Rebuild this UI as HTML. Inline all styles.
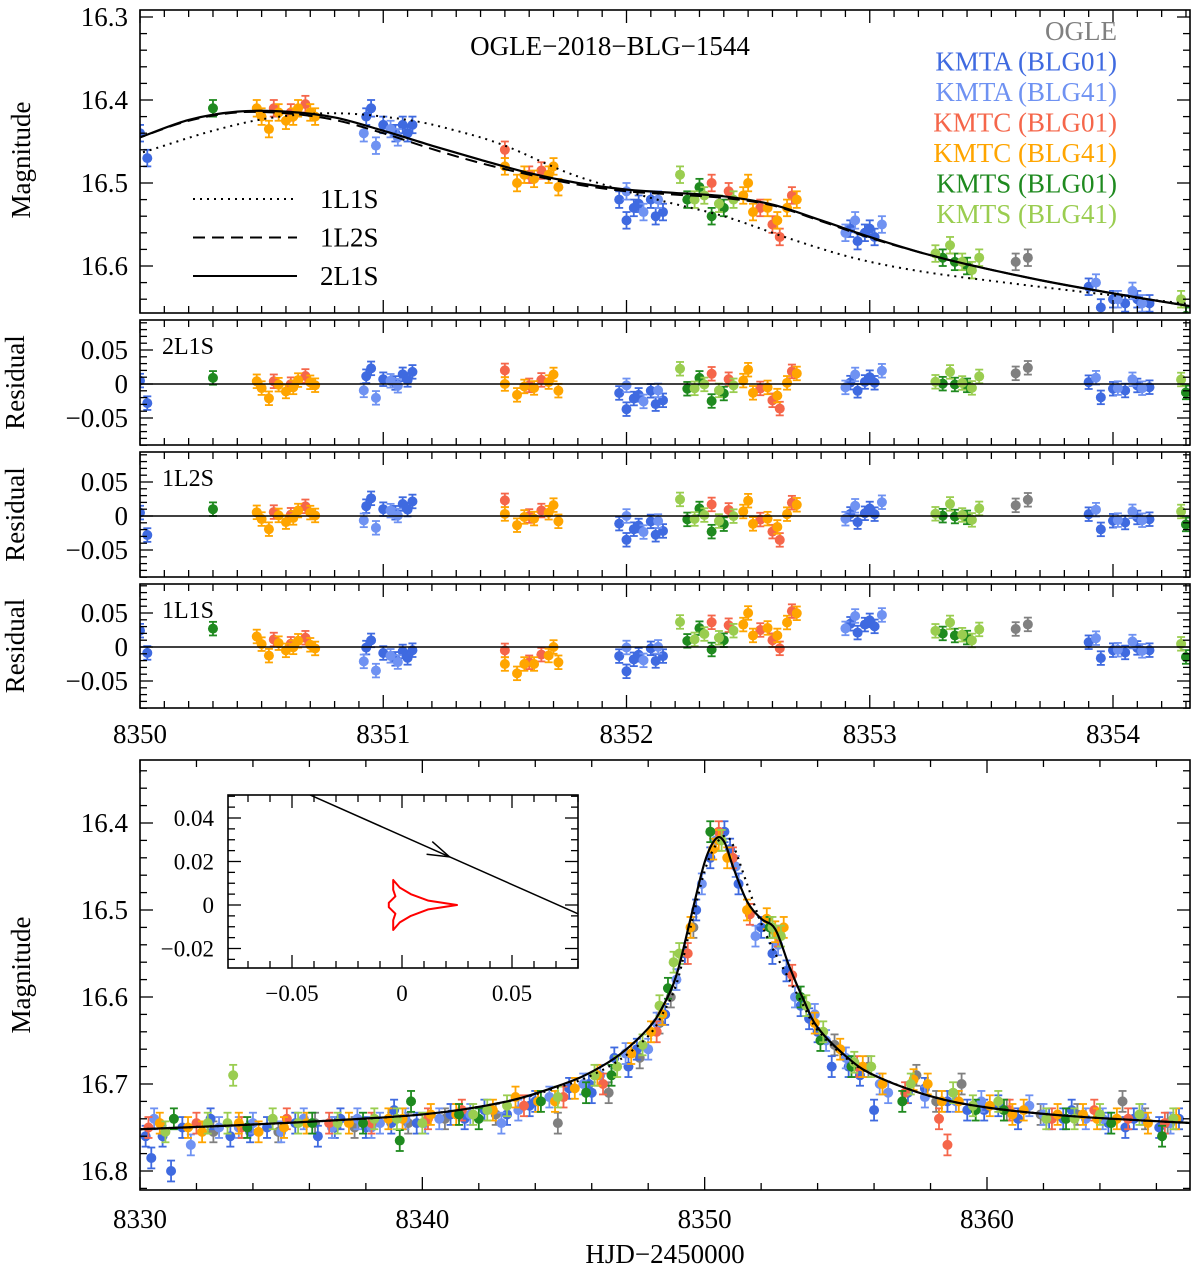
<!DOCTYPE html>
<html><head><meta charset="utf-8">
<style>
html,body{margin:0;padding:0;background:#fff;}
svg{display:block;font-family:"Liberation Serif",serif;}
</style></head>
<body>
<svg id="chart" width="1200" height="1272" viewBox="0 0 1200 1272" xmlns="http://www.w3.org/2000/svg"></svg>
<script>
// ---------- DATA ----------
const groupNames = ["OGLE","KMTA (BLG01)","KMTA (BLG41)","KMTC (BLG01)","KMTC (BLG41)","KMTS (BLG01)","KMTS (BLG41)"];
const groupColors = ["#808080","#3f6ae0","#6f92f2","#f5664a","#ffa500","#1f8a1f","#9acd50"];

// top zoom panel data [HJD-2450000, mag]
const topOgle = [[8353.6,16.595],[8353.65,16.59]];
const topKmtA01 = [[8350.0,16.44],[8350.03,16.47],[8350.93,16.42],[8350.95,16.41],[8351.0,16.43],[8351.05,16.44],[8351.08,16.43],[8351.1,16.44],[8351.12,16.43],[8351.97,16.52],[8352.0,16.545],[8352.03,16.53],[8352.05,16.525],[8352.1,16.52],[8352.12,16.54],[8352.15,16.535],[8352.92,16.555],[8352.95,16.57],[8352.98,16.56],[8353.0,16.555],[8353.02,16.565],[8353.9,16.625],[8353.95,16.65],[8354.0,16.64],[8354.05,16.645],[8354.1,16.64],[8354.15,16.645]];
const topKmtA41 = [[8350.92,16.44],[8350.97,16.455],[8351.03,16.435],[8351.06,16.445],[8352.0,16.51],[8352.07,16.535],[8352.13,16.52],[8352.9,16.56],[8352.94,16.545],[8353.05,16.55],[8353.93,16.62],[8354.02,16.64],[8354.08,16.63],[8354.12,16.645]];
const topKmtC01 = [[8350.55,16.41],[8350.62,16.415],[8350.68,16.405],[8351.5,16.46],[8351.6,16.49],[8351.65,16.485],[8352.35,16.5],[8352.42,16.51],[8352.55,16.53],[8352.6,16.55],[8352.63,16.565],[8352.68,16.515]];
const topKmtC41 = [[8350.48,16.41],[8350.5,16.42],[8350.53,16.435],[8350.57,16.415],[8350.6,16.425],[8350.63,16.42],[8350.65,16.41],[8350.7,16.415],[8350.72,16.42],[8351.5,16.48],[8351.55,16.5],[8351.58,16.49],[8351.62,16.495],[8351.68,16.49],[8351.72,16.505],[8351.7,16.48],[8352.48,16.515],[8352.5,16.5],[8352.52,16.535],[8352.58,16.53],[8352.62,16.545],[8352.66,16.53],[8352.7,16.52]];
const topKmtS01 = [[8350.3,16.41],[8352.25,16.52],[8352.3,16.505],[8352.35,16.54],[8352.4,16.53],[8353.3,16.59],[8353.35,16.595],[8353.4,16.6],[8354.3,16.66]];
const topKmtS41 = [[8352.22,16.49],[8352.28,16.52],[8352.32,16.515],[8352.38,16.525],[8352.44,16.52],[8353.27,16.585],[8353.33,16.575],[8353.38,16.595],[8353.42,16.605],[8353.45,16.59],[8354.28,16.64]];

// model curves (top)
const model2L1S = [[8349.9,16.455],[8350,16.445],[8350.2,16.424],[8350.4,16.414],[8350.6,16.414],[8350.8,16.421],[8351.0,16.437],[8351.2,16.455],[8351.4,16.472],[8351.6,16.488],[8351.8,16.5],[8352.0,16.508],[8352.2,16.512],[8352.4,16.516],[8352.6,16.526],[8352.8,16.545],[8353.0,16.565],[8353.2,16.583],[8353.4,16.598],[8353.7,16.617],[8354.0,16.633],[8354.35,16.65]];
const model1L2S = [[8349.9,16.455],[8350,16.445],[8350.2,16.425],[8350.4,16.415],[8350.6,16.416],[8350.8,16.424],[8351.0,16.44],[8351.2,16.459],[8351.4,16.476],[8351.6,16.49],[8351.8,16.502],[8352.0,16.51],[8352.2,16.514],[8352.4,16.518],[8352.6,16.527],[8352.8,16.546],[8353.0,16.566],[8353.2,16.583],[8353.4,16.598],[8353.7,16.617],[8354.0,16.633],[8354.35,16.65]];
const model1L1S = [[8349.9,16.47],[8350,16.464],[8350.3,16.437],[8350.55,16.421],[8350.82,16.416],[8351.1,16.424],[8351.3,16.437],[8351.5,16.455],[8351.78,16.49],[8352.1,16.518],[8352.4,16.54],[8352.66,16.566],[8352.93,16.59],[8353.2,16.606],[8353.53,16.619],[8353.9,16.632],[8354.35,16.647]];

// bottom full-light-curve data
const botOgle = [[8332.6,16.755],[8334.9,16.755],[8337.6,16.75],[8340.8,16.74],[8344.8,16.745],[8346.6,16.71],[8348.4,16.63],[8348.8,16.6],[8349.6,16.52],[8354.6,16.655],[8355.8,16.68],[8357.5,16.69],[8359.1,16.70],[8360.7,16.73],[8363.2,16.735],[8364.8,16.72],[8366.4,16.745],[8336.2,16.745],[8339.5,16.745],[8342.6,16.735],[8347.7,16.67],[8358.2,16.72],[8361.9,16.735],[8365.6,16.74]];
const botKmtA01 = [[8330.2,16.76],[8330.4,16.785],[8331.1,16.80],[8331.5,16.75],[8332.5,16.74],[8333.2,16.76],[8334.5,16.75],[8335.5,16.745],[8336.3,16.76],[8337.1,16.74],[8338,16.75],[8339,16.73],[8339.8,16.745],[8341,16.735],[8342.2,16.73],[8343,16.735],[8344,16.72],[8345.2,16.705],[8346,16.71],[8346.8,16.67],[8347.6,16.66],[8348.6,16.62],[8349.3,16.55],[8349.7,16.5],[8350.2,16.44],[8350.9,16.43],[8351.2,16.47],[8352.0,16.52],[8352.4,16.55],[8352.9,16.57],[8353.4,16.61],[8354.0,16.64],[8354.5,16.68],[8355.5,16.69],[8356,16.73],[8357.2,16.71],[8358.6,16.72],[8359.3,16.73],[8360.4,16.725],[8361.1,16.74],[8362.2,16.74],[8363,16.73],[8364.3,16.745],[8365.2,16.74],[8366.1,16.75],[8366.8,16.74],[8330.8,16.76],[8333.9,16.755],[8336.9,16.75],[8338.9,16.745],[8341.5,16.74],[8343.8,16.725],[8345.9,16.7],[8347.3,16.68],[8350.7,16.41],[8353.7,16.625],[8355.1,16.68],[8357.8,16.705],[8359.9,16.73],[8362.7,16.74],[8364.9,16.75]];
const botKmtA41 = [[8330.5,16.74],[8331.8,16.77],[8332.8,16.75],[8334,16.745],[8335,16.755],[8336.8,16.75],[8337.7,16.74],[8338.5,16.745],[8339.4,16.74],[8340.6,16.74],[8341.7,16.735],[8342.8,16.745],[8344.5,16.715],[8345.7,16.70],[8347.2,16.665],[8348,16.66],[8349,16.58],[8349.9,16.47],[8350.4,16.42],[8351.1,16.45],[8351.8,16.53],[8352.6,16.54],[8353.2,16.60],[8353.9,16.62],[8355,16.67],[8356.5,16.71],[8357.8,16.715],[8359.8,16.72],[8361.5,16.725],[8363.5,16.74],[8365.5,16.735],[8366.5,16.745],[8333.5,16.75],[8335.8,16.74],[8338.2,16.75],[8340.1,16.745],[8343.4,16.73],[8346.3,16.69],[8348.3,16.63],[8354.3,16.65],[8356.2,16.7],[8358.9,16.72],[8362,16.735],[8364.1,16.74]];
const botKmtC01 = [[8330.3,16.75],[8332,16.745],[8335.2,16.74],[8338.2,16.745],[8341.4,16.73],[8343.6,16.725],[8346.4,16.70],[8348.3,16.64],[8349.4,16.55],[8350.5,16.41],[8351.0,16.44],[8351.6,16.505],[8352.6,16.53],[8353.1,16.575],[8358.3,16.74],[8358.6,16.77],[8360.8,16.73],[8363.8,16.73],[8366.3,16.745],[8333.6,16.75],[8336.7,16.745],[8340.2,16.74],[8345,16.715],[8355.4,16.68],[8357.1,16.71],[8362.3,16.74],[8365,16.74]];
const botKmtC41 = [[8330.7,16.745],[8331.7,16.75],[8332.2,16.755],[8333.5,16.745],[8334.2,16.755],[8335.9,16.745],[8337.4,16.745],[8338.8,16.74],[8340.3,16.735],[8341.2,16.735],[8342.5,16.73],[8343.3,16.715],[8344.7,16.72],[8345.4,16.705],[8346.2,16.69],[8347.4,16.665],[8348.5,16.62],[8349.5,16.52],[8350.5,16.42],[8350.8,16.44],[8351.5,16.5],[8352.2,16.51],[8352.8,16.52],[8353.9,16.63],[8354.8,16.66],[8355.6,16.68],[8356.3,16.70],[8357.4,16.695],[8357.9,16.70],[8359,16.72],[8360.1,16.725],[8361.3,16.73],[8362.5,16.735],[8363.4,16.735],[8364.6,16.74],[8365.7,16.745],[8366.7,16.74],[8335.1,16.75],[8339.3,16.74],[8344.1,16.72],[8348.1,16.64],[8350.3,16.43],[8352.5,16.525],[8358.4,16.72],[8360.9,16.735],[8363.9,16.74]];
const botKmtS01 = [[8331.2,16.74],[8333.8,16.75],[8336.1,16.745],[8339.2,16.765],[8339.6,16.72],[8342,16.74],[8344.2,16.72],[8346.7,16.69],[8348.7,16.59],[8350.2,16.41],[8352.3,16.52],[8353.4,16.6],[8355.2,16.68],[8357,16.72],[8359.6,16.73],[8362.8,16.74],[8366.2,16.76],[8337.9,16.745],[8341.3,16.735],[8345.8,16.71],[8354.1,16.65],[8360.6,16.73],[8364.4,16.745]];
const botKmtS41 = [[8330.9,16.755],[8332.4,16.745],[8333.1,16.745],[8333.3,16.69],[8334.7,16.74],[8337,16.745],[8338.3,16.74],[8340,16.745],[8341.8,16.735],[8343,16.725],[8344.8,16.715],[8346.1,16.69],[8347.8,16.655],[8348.4,16.61],[8348.9,16.56],[8350.6,16.42],[8352.4,16.52],[8353.6,16.61],[8354.2,16.64],[8355.9,16.68],[8357.3,16.70],[8358.8,16.71],[8360.4,16.72],[8362.1,16.74],[8364,16.735],[8365.4,16.735],[8335.6,16.745],[8339.1,16.74],[8342.3,16.73],[8346.9,16.68],[8349.1,16.55],[8352.7,16.53],[8355.3,16.675],[8359.5,16.725],[8363.1,16.74],[8366.6,16.74]];

const botModel2L1S = [[8330,16.752],[8335,16.745],[8340,16.735],[8343,16.72],[8345,16.70],[8346,16.686],[8347,16.666],[8348,16.636],[8348.5,16.612],[8349,16.575],[8349.5,16.51],[8350,16.445],[8350.4,16.418],[8350.7,16.422],[8351,16.45],[8351.5,16.49],[8352,16.51],[8352.5,16.522],[8353,16.565],[8353.5,16.603],[8354,16.635],[8355,16.668],[8356,16.69],[8358,16.714],[8360,16.727],[8363,16.737],[8367.3,16.745]];
const botModel1L1S = [[8330,16.752],[8335,16.745],[8340,16.735],[8343,16.72],[8345,16.702],[8346,16.69],[8347,16.672],[8348,16.645],[8348.5,16.62],[8349,16.585],[8349.5,16.52],[8350,16.455],[8350.4,16.425],[8350.7,16.415],[8351,16.425],[8351.5,16.47],[8352,16.515],[8352.5,16.55],[8353,16.58],[8353.5,16.61],[8354,16.638],[8355,16.67],[8356,16.69],[8358,16.714],[8360,16.727],[8363,16.737],[8367.3,16.745]];

// inset geometry (source-plane)
const trajStart = [-0.0418,0.0506];
const trajEnd = [0.085,-0.0063];
const causticPts = [[0.025,0],[0.012,0.002],[0.004,0.005],[-0.001,0.008],[-0.004,0.0115],[-0.004,0.007],[-0.003,0.004],[-0.006,0.001],[-0.006,-0.001],[-0.003,-0.004],[-0.004,-0.007],[-0.004,-0.0115],[-0.001,-0.008],[0.004,-0.005],[0.012,-0.002],[0.025,0]];

// ---------- DRAWING ----------
const NS="http://www.w3.org/2000/svg";
const svg=document.getElementById("chart");
function mk(tag,attrs,parent){const e=document.createElementNS(NS,tag);for(const k in attrs)e.setAttribute(k,attrs[k]);(parent||svg).appendChild(e);return e;}
function lin(d0,d1,r0,r1){return v=>r0+(v-d0)*(r1-r0)/(d1-d0);}
function interp(curve,t){if(t<=curve[0][0])return curve[0][1];for(let i=1;i<curve.length;i++){if(t<=curve[i][0]){const a=curve[i-1],b=curve[i];return a[1]+(b[1]-a[1])*(t-a[0])/(b[0]-a[0]);}}return curve[curve.length-1][1];}

const defs=mk("defs",{});
function clip(id,x,y,w,h){const c=mk("clipPath",{id:id},defs);mk("rect",{x:x,y:y,width:w,height:h},c);}

function frame(name,x0,y0,x1,y1){
  const r=mk("rect",{x:x0,y:y0,width:x1-x0,height:y1-y0,fill:"none",stroke:"#000","stroke-width":1.6});
  
  
}
function xticks(sx,x0,x1,y0,y1,majors,minorStep,minT,maxT){
  const g=mk("g",{stroke:"#000","stroke-width":1.3});
  
  
  for(let v=minT;v<=maxT+1e-9;v+=minorStep){const px=sx(v);if(px<x0-0.5||px>x1+0.5)continue;
    const isMaj=majors.some(m=>Math.abs(m-v)<1e-6);const L=isMaj?13:7;
    mk("line",{x1:px,y1:y1,x2:px,y2:y1-L},g);mk("line",{x1:px,y1:y0,x2:px,y2:y0+L},g);}
}
function yticks(sy,x0,x1,y0,y1,majors,minorStep,minV,maxV){
  const g=mk("g",{stroke:"#000","stroke-width":1.3});
  
  
  for(let v=minV;v<=maxV+1e-9;v+=minorStep){const py=sy(v);if(py<y0-0.5||py>y1+0.5)continue;
    const isMaj=majors.some(m=>Math.abs(m-v)<1e-6);const L=isMaj?13:7;
    mk("line",{x1:x0,y1:py,x2:x0+L,y2:py},g);mk("line",{x1:x1,y1:py,x2:x1-L,y2:py},g);}
}
function text(name,str,x,y,size,anchor,extra){
  const t=mk("text",Object.assign({x:x,y:y,"font-size":size,"text-anchor":anchor||"middle",fill:"#000"},extra||{}));
  t.textContent=str;
  
  
  return t;
}
function points(sets,sx,sy,valFn,err,r,clipId,panel){
  const g=mk("g",{"clip-path":"url(#"+clipId+")"});
  
  
  sets.forEach((set,gi)=>{
    const col=groupColors[gi];
    const sg=mk("g",{},g);
    
    
    set.forEach(p=>{
      const v=valFn(p);const x=sx(p[0]);const yc=sy(v);const ya=sy(v+err),yb=sy(v-err);
      mk("line",{x1:x,y1:ya,x2:x,y2:yb,stroke:col,"stroke-width":1.8},sg);
      mk("line",{x1:x-4,y1:ya,x2:x+4,y2:ya,stroke:col,"stroke-width":1.8},sg);
      mk("line",{x1:x-4,y1:yb,x2:x+4,y2:yb,stroke:col,"stroke-width":1.8},sg);
      const c=mk("circle",{cx:x,cy:yc,r:r,fill:col},sg);
      
    });
  });
}
function smoothPath(pts){
  let d="M"+pts[0][0].toFixed(2)+","+pts[0][1].toFixed(2);
  for(let i=0;i<pts.length-1;i++){
    const p0=pts[Math.max(0,i-1)],p1=pts[i],p2=pts[i+1],p3=pts[Math.min(pts.length-1,i+2)];
    const c1x=p1[0]+(p2[0]-p0[0])/6,c1y=p1[1]+(p2[1]-p0[1])/6;
    const c2x=p2[0]-(p3[0]-p1[0])/6,c2y=p2[1]-(p3[1]-p1[1])/6;
    d+="C"+c1x.toFixed(2)+","+c1y.toFixed(2)+" "+c2x.toFixed(2)+","+c2y.toFixed(2)+" "+p2[0].toFixed(2)+","+p2[1].toFixed(2);
  }
  return d;
}
function curve(name,arr,sx,sy,dash,clipId,w){
  const d=smoothPath(arr.map(p=>[sx(p[0]),sy(p[1])]));
  const a={d:d,fill:"none",stroke:"#000","stroke-width":w||2.2,"clip-path":"url(#"+clipId+")","stroke-linejoin":"round"};
  if(dash)a["stroke-dasharray"]=dash;
  const p=mk("path",a);
  
  
}

// ---- top panel ----
const TX0=140,TX1=1190;
const sxTop=lin(8350,8354,140,1113);
const syTop=lin(16.3,16.6,17,266);
clip("cTop",TX0,10,TX1-TX0,303);
const topSets=[topOgle,topKmtA01,topKmtA41,topKmtC01,topKmtC41,topKmtS01,topKmtS41];
points(topSets,sxTop,syTop,p=>p[1],0.01,5,"cTop","top");
curve("model-1l1s-curve",model1L1S,sxTop,syTop,"2,5","cTop",2);
curve("model-1l2s-curve",model1L2S,sxTop,syTop,"12,7","cTop",2);
curve("model-2l1s-curve",model2L1S,sxTop,syTop,null,"cTop",2.2);
frame("top-panel-frame",TX0,10,TX1,313);
xticks(sxTop,TX0,TX1,10,313,[8350,8351,8352,8353,8354],0.1,8350,8354.4);
yticks(syTop,TX0,TX1,10,313,[16.3,16.4,16.5,16.6],0.02,16.28,16.66);
[16.3,16.4,16.5,16.6].forEach(v=>text("y-tick-label",v.toFixed(1),128,syTop(v)+9,27,"end"));
text("top-y-axis-title","Magnitude",30,160,27,"middle",{transform:"rotate(-90 30 160)"});
text("chart-title","OGLE\u22122018\u2212BLG\u22121544",610,55,27,"middle");
groupNames.forEach((n,i)=>{
  text("legend-entry",n,1117,40+i*30.5,27,"end",{fill:groupColors[i]});
});
[["1L1S","2,5"],["1L2S","12,7"],["2L1S",null]].forEach((m,i)=>{
  const y=199+i*38.5;
  const a={x1:193,y1:y,x2:297,y2:y,stroke:"#000","stroke-width":2};
  if(m[1])a["stroke-dasharray"]=m[1];
  const l=mk("line",a);
  
  
  text("model-legend-label",m[0],320,y+9,27,"start");
});

// ---- residual panels (residual = model - data, in mag) ----
const resPanels=[["2L1S",320,445,384,model2L1S],["1L2S",452,577,516,model1L2S],["1L1S",584,708,647,model1L1S]];
resPanels.forEach((rp,k)=>{
  const [lab,y0,y1,yz,mod]=rp;
  const sy=v=>yz-v*680;
  const cid="cRes"+k;
  clip(cid,TX0,y0,TX1-TX0,y1-y0);
  points(topSets,sxTop,sy,p=>interp(mod,p[0])-p[1],0.01,5,cid,"residual-"+lab);
  const zl=mk("line",{x1:TX0,y1:yz,x2:TX1,y2:yz,stroke:"#000","stroke-width":1.4});
  
  
  frame("residual-panel-frame-"+lab,TX0,y0,TX1,y1);
  xticks(sxTop,TX0,TX1,y0,y1,[8350,8351,8352,8353,8354],0.1,8350,8354.4);
  yticks(sy,TX0,TX1,y0,y1,[-0.05,0,0.05],0.01,-0.09,0.09);
  text("y-tick-label","0.05",128,sy(0.05)+9,27,"end");
  text("y-tick-label","0",128,sy(0)+9,27,"end");
  text("y-tick-label","\u22120.05",128,sy(-0.05)+9,27,"end");
  text("residual-model-label",lab,162,y0+34,24,"start");
  const cy=(y0+y1)/2;
  text("residual-y-axis-title","Residual",24,cy,27,"middle",{transform:"rotate(-90 24 "+cy+")"});
});
[8350,8351,8352,8353,8354].forEach(v=>text("x-tick-label",String(v),sxTop(v),743,27,"middle"));

// ---- bottom panel ----
const BY0=760,BY1=1190;
const sxBot=lin(8330,8360,140,987);
const syBot=lin(16.4,16.8,823,1171);
clip("cBot",TX0,BY0,TX1-TX0,BY1-BY0);
const botSets=[botOgle,botKmtA01,botKmtA41,botKmtC01,botKmtC41,botKmtS01,botKmtS41];
points(botSets,sxBot,syBot,p=>p[1],0.012,5,"cBot","bottom");
curve("bottom-model-1l1s-curve",botModel1L1S,sxBot,syBot,"2,5","cBot",2.2);
curve("bottom-model-2l1s-curve",botModel2L1S,sxBot,syBot,null,"cBot",2.2);
frame("bottom-panel-frame",TX0,BY0,TX1,BY1);
xticks(sxBot,TX0,TX1,BY0,BY1,[8330,8340,8350,8360],2,8330,8368);
yticks(syBot,TX0,TX1,BY0,BY1,[16.4,16.5,16.6,16.7,16.8],0.02,16.32,16.82);
[16.4,16.5,16.6,16.7,16.8].forEach(v=>text("y-tick-label",v.toFixed(1),128,syBot(v)+9,27,"end"));
[8330,8340,8350,8360].forEach(v=>text("x-tick-label",String(v),sxBot(v),1228,27,"middle"));
text("x-axis-title","HJD\u22122450000",665,1263,27,"middle");
text("bottom-y-axis-title","Magnitude",30,975,27,"middle",{transform:"rotate(-90 30 975)"});

// inset
const IX0=228,IX1=578,IY0=795,IY1=968;
const sxIn=lin(0,0.05,402,512), syIn=lin(0,0.02,905,861.5);
const bg=mk("rect",{x:IX0,y:IY0,width:IX1-IX0,height:IY1-IY0,fill:"#fff"});


clip("cIn",IX0,IY0,IX1-IX0,IY1-IY0);
const tr=mk("line",{x1:sxIn(trajStart[0]),y1:syIn(trajStart[1]),x2:sxIn(trajEnd[0]),y2:syIn(trajEnd[1]),stroke:"#000","stroke-width":1.5,"clip-path":"url(#cIn)"});


{const t=0.5;const ax=sxIn(trajStart[0]+(trajEnd[0]-trajStart[0])*t),ay=syIn(trajStart[1]+(trajEnd[1]-trajStart[1])*t);
 const dx=sxIn(trajEnd[0])-sxIn(trajStart[0]),dy=syIn(trajEnd[1])-syIn(trajStart[1]);const L=Math.hypot(dx,dy);const ux=dx/L,uy=dy/L;
 const ar=mk("path",{d:`M${ax-ux*22-uy*7},${ay-uy*22+ux*7}L${ax},${ay}L${ax-ux*22+uy*7},${ay-uy*22-ux*7}`,fill:"none",stroke:"#000","stroke-width":1.5});
 
 }
const cau=mk("path",{d:causticPts.map((p,i)=>(i?"L":"M")+sxIn(p[0]).toFixed(2)+","+syIn(p[1]).toFixed(2)).join("")+"Z",fill:"none",stroke:"#ff0000","stroke-width":2,"stroke-linejoin":"round"});


frame("inset-frame",IX0,IY0,IX1,IY1);
xticks(sxIn,IX0,IX1,IY0,IY1,[-0.05,0,0.05],0.01,-0.08,0.08);
yticks(syIn,IX0,IX1,IY0,IY1,[-0.02,0,0.02,0.04],0.005,-0.03,0.05);
[[-0.05,"\u22120.05"],[0,"0"],[0.05,"0.05"]].forEach(a=>text("inset-x-tick-label",a[1],sxIn(a[0]),1001,23,"middle"));
[[0.04,"0.04"],[0.02,"0.02"],[0,"0"],[-0.02,"\u22120.02"]].forEach(a=>text("inset-y-tick-label",a[1],214,syIn(a[0])+8,23,"end"));
</script>
</body></html>
